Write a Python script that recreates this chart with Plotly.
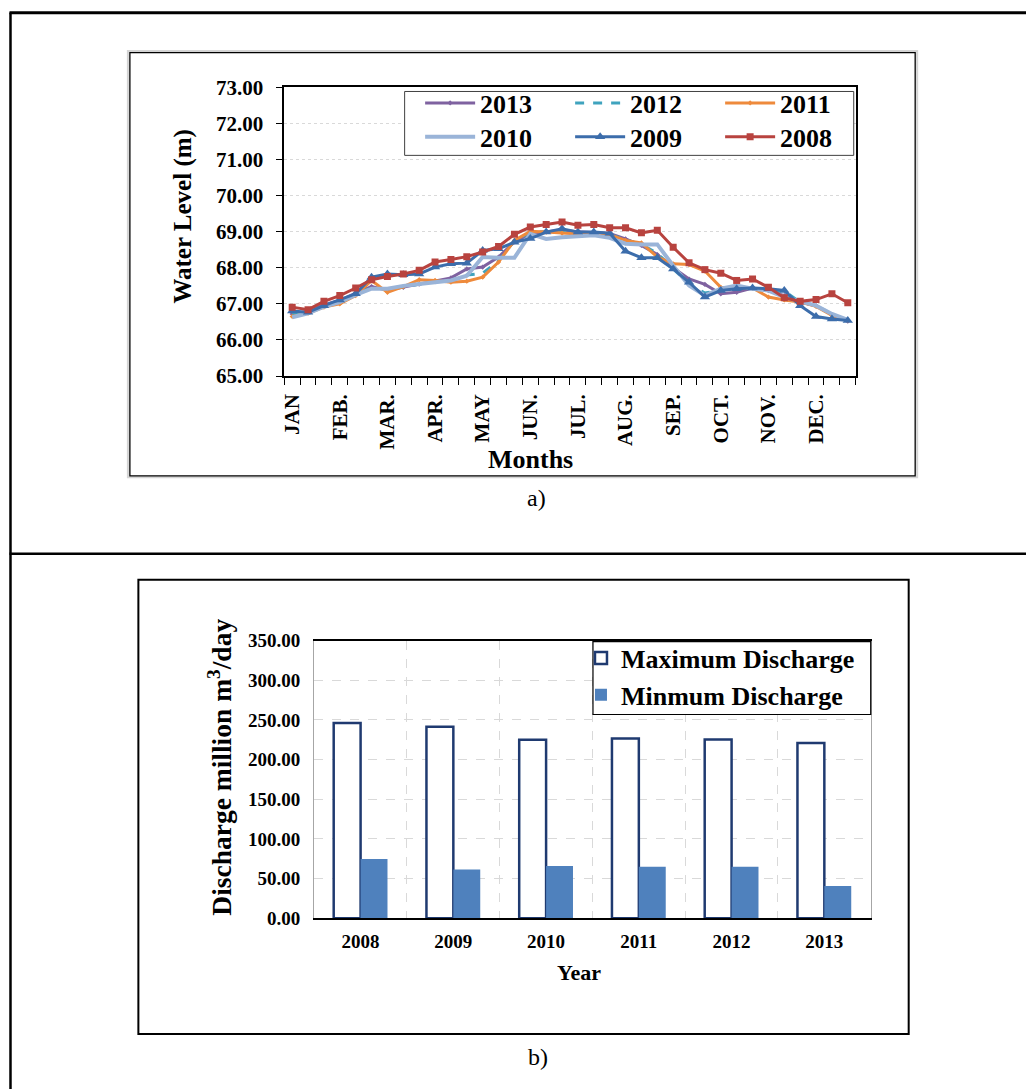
import plotly.graph_objects as go

W, H = 1026, 1089

# screen-position helpers (pixel positions on the photographed page -> paper coords)
SX, OX = 0.997, 2.5
SY, OY = 0.9795, 10.4


def px(x):
    return ((x - OX) / SX) / W


def py(y):
    return 1 - ((y - OY) / SY) / H


FONT = "Liberation Serif"

# ---------------- data : a) water level (ten-day readings) ----------------
months = ["JAN", "FEB.", "MAR.", "APR.", "MAY", "JUN.", "JUL.", "AUG.", "SEP.", "OCT.", "NOV.", "DEC."]
periods = list(range(1, 37))
month_ticks = list(range(1, 37, 3))

wl_2013 = [66.72, 66.80, 66.97, 67.10, 67.30, 67.48, 67.38, 67.46, 67.55, 67.62,
           67.72, 67.97, 68.02, 68.30, 68.72, 68.95, 69.00, 69.05, 69.00, 68.98,
           68.95, 68.80, 68.62, 68.37, 68.00, 67.69, 67.54, 67.28, 67.32, 67.44,
           67.37, 67.23, 67.05, 66.95, 66.70, 66.52]
wl_2012 = [66.70, 66.78, 66.95, 67.08, 67.28, 67.45, 67.40, 67.48, 67.55, 67.62,
           67.65, 67.80, 67.85, 68.20, 68.75, 68.98, 69.00, 69.02, 68.97, 68.95,
           68.92, 68.78, 68.65, 68.40, 67.98, 67.55, 67.30, 67.38, 67.45, 67.42,
           67.40, 67.35, 67.05, 66.95, 66.72, 66.55]
wl_2011 = [66.65, 66.74, 66.91, 67.00, 67.23, 67.65, 67.32, 67.48, 67.67, 67.65,
           67.60, 67.63, 67.74, 68.16, 68.76, 69.01, 68.99, 68.96, 68.94, 68.94,
           68.92, 68.76, 68.69, 68.30, 68.11, 68.09, 67.91, 67.46, 67.42, 67.44,
           67.19, 67.11, 67.05, 66.93, 66.68, 66.54]
wl_2010 = [66.63, 66.74, 66.92, 67.05, 67.25, 67.42, 67.42, 67.50, 67.55, 67.60,
           67.65, 67.78, 68.30, 68.28, 68.28, 68.94, 68.80, 68.85, 68.87, 68.90,
           68.83, 68.67, 68.65, 68.65, 68.06, 67.51, 67.23, 67.42, 67.51, 67.42,
           67.37, 67.19, 67.07, 66.95, 66.72, 66.56]
wl_2009 = [66.80, 66.77, 66.95, 67.11, 67.28, 67.74, 67.83, 67.81, 67.83, 68.02,
           68.11, 68.13, 68.48, 68.53, 68.71, 68.81, 68.99, 69.08, 68.99, 68.99,
           68.96, 68.46, 68.28, 68.28, 67.97, 67.60, 67.19, 67.37, 67.42, 67.44,
           67.42, 67.37, 66.95, 66.65, 66.58, 66.54]
wl_2008 = [66.91, 66.84, 67.07, 67.23, 67.44, 67.67, 67.76, 67.83, 67.93, 68.16,
           68.23, 68.31, 68.44, 68.59, 68.93, 69.13, 69.20, 69.27, 69.18, 69.20,
           69.11, 69.11, 68.97, 69.04, 68.57, 68.14, 67.95, 67.85, 67.65, 67.69,
           67.46, 67.17, 67.07, 67.12, 67.28, 67.03]

# ---------------- data : b) discharge ----------------
years = ["2008", "2009", "2010", "2011", "2012", "2013"]
max_discharge = [246.2, 241.5, 225.0, 226.7, 225.4, 220.8]
min_discharge = [74.6, 61.4, 65.7, 64.8, 64.8, 40.7]

fig = go.Figure()

series = [
    ("2013", wl_2013, "#7F62A0", "solid", 3, "diamond", 4, "legend"),
    ("2012", wl_2012, "#3FA3BE", "dash", 3, None, 0, "legend"),
    ("2011", wl_2011, "#EE8A3C", "solid", 3, "diamond", 4, "legend"),
    ("2010", wl_2010, "#9AB4D8", "solid", 4, None, 0, "legend3"),
    ("2009", wl_2009, "#3C6DAB", "solid", 3, "triangle-up", 9, "legend3"),
    ("2008", wl_2008, "#B8433F", "solid", 3, "square", 7, "legend3"),
]
for name, vals, col, dash, lw, sym, msz, leg in series:
    kw = {}
    if sym:
        kw["mode"] = "lines+markers"
        kw["marker"] = dict(symbol=sym, size=msz, color=col, line=dict(width=0))
    else:
        kw["mode"] = "lines"
    fig.add_trace(go.Scatter(
        x=periods, y=vals, name=name, line=dict(color=col, width=lw, dash=dash),
        xaxis="x", yaxis="y", legend=leg, **kw))

fig.add_trace(go.Bar(
    x=years, y=max_discharge, name="Maximum Discharge",
    marker=dict(color="white", line=dict(color="#1F3A70", width=2.5)),
    xaxis="x2", yaxis="y2", legend="legend2"))
fig.add_trace(go.Bar(
    x=years, y=min_discharge, name="Minmum Discharge",
    marker=dict(color="#4F81BD", line=dict(width=0)),
    xaxis="x2", yaxis="y2", legend="legend2"))


def bold(s):
    return dict(family=FONT, size=s, color="black", weight="bold")


shapes = [
    # table lines
    dict(type="line", xref="paper", yref="paper", x0=px(9), x1=px(9), y0=py(11), y1=py(1100),
         line=dict(color="black", width=2.5)),
    dict(type="line", xref="paper", yref="paper", x0=px(8), x1=px(1030), y0=py(11.2), y1=py(11.2),
         line=dict(color="black", width=3)),
    dict(type="line", xref="paper", yref="paper", x0=px(8), x1=px(1030), y0=py(553), y1=py(553),
         line=dict(color="black", width=2.5)),
    # chart a) frame
    dict(type="rect", xref="paper", yref="paper", x0=px(126.5), x1=px(916.5), y0=py(49.5), y1=py(476.5),
         line=dict(color="#D4D4D4", width=2)),
    dict(type="rect", xref="paper", yref="paper", x0=px(128.5), x1=px(914.5), y0=py(51), y1=py(475),
         line=dict(color="black", width=1.3)),
    # chart b) frame
    dict(type="rect", xref="paper", yref="paper", x0=px(137), x1=px(908), y0=py(579), y1=py(1034),
         line=dict(color="black", width=2)),
    # legend box of a)
    dict(type="rect", xref="paper", yref="paper", x0=px(403.5), x1=px(853), y0=py(90), y1=py(154),
         line=dict(color="#404040", width=1), fillcolor="white", layer="above"),
    # legend box of b)
    dict(type="rect", xref="paper", yref="paper", x0=px(592), x1=px(870), y0=py(641), y1=py(714),
         line=dict(color="black", width=1.2), fillcolor="white", layer="above"),
]

annotations = [
    dict(text="Water Level (m)", x=px(182), y=py(215), textangle=-90, font=bold(25)),
    dict(text="Months", x=px(529), y=py(459), font=bold(26)),
    dict(text="Discharge million m<sup>3</sup>/day", x=px(219), y=py(767), textangle=-90, font=bold(27.5)),
    dict(text="Year", x=px(578), y=py(972), font=bold(22)),
    dict(text="a)", x=px(535), y=py(497), font=dict(family=FONT, size=24, color="black")),
    dict(text="b)", x=px(537), y=py(1057), font=dict(family=FONT, size=24, color="black")),
]
for a in annotations:
    a.update(xref="paper", yref="paper", showarrow=False, xanchor="center", yanchor="middle")

fig.update_layout(
    width=W, height=H, autosize=False,
    margin=dict(l=0, r=0, t=0, b=0),
    paper_bgcolor="white", plot_bgcolor="white",
    font=dict(family=FONT, color="black"),
    barmode="group", bargap=0.42, bargroupgap=0,
    xaxis=dict(domain=[px(283), px(855)], anchor="y", range=[0.5, 36.5],
               tickmode="array", tickvals=month_ticks, ticktext=months, tickangle=-90,
               ticks="", showgrid=False, zeroline=False,
               minor=dict(tickmode="array", tickvals=[0.5 + i for i in range(37)],
                          ticks="outside", ticklen=7, tickcolor="black", tickwidth=1, showgrid=False),
               showline=True, linecolor="black", linewidth=1.5, mirror=True,
               tickfont=bold(21), ticklabelstandoff=8),
    yaxis=dict(domain=[py(375), py(86)], anchor="x", range=[65, 73], dtick=1, tickformat=".2f",
               ticks="outside", ticklen=6, tickcolor="black",
               showgrid=True, gridcolor="#D9D9D9", griddash="dot", zeroline=False,
               showline=True, linecolor="black", linewidth=1.5, mirror=True,
               tickfont=bold(21), ticklabelstandoff=9),
    xaxis2=dict(domain=[px(313), px(870)], anchor="y2", type="category",
                tickson="boundaries", ticks="", showgrid=True, gridcolor="#D9D9D9", griddash="dash",
                showline=True, linecolor="black", linewidth=1.5, mirror=True,
                tickfont=bold(19), ticklabelstandoff=5),
    yaxis2=dict(domain=[py(918), py(640)], anchor="x2", range=[0, 350], dtick=50, tickformat=".2f",
                ticks="", showgrid=True, gridcolor="#D9D9D9", griddash="dash", zeroline=False,
                showline=True, linecolor="#A6A6A6", linewidth=1.2, mirror=True,
                tickfont=bold(19), ticklabelstandoff=9),
    legend=dict(orientation="h", x=px(419), y=py(78), xanchor="left", yanchor="top",
                entrywidth=85, entrywidthmode="pixels", itemwidth=50,
                font=bold(26), bgcolor="rgba(0,0,0,0)", borderwidth=0),
    legend3=dict(orientation="h", x=px(419), y=py(112), xanchor="left", yanchor="top",
                 entrywidth=85, entrywidthmode="pixels", itemwidth=50,
                 font=bold(26), bgcolor="rgba(0,0,0,0)", borderwidth=0),
    legend2=dict(orientation="v", x=px(580), y=py(634), xanchor="left", yanchor="top",
                 font=bold(26), bgcolor="rgba(0,0,0,0)", borderwidth=0,
                 itemwidth=30, tracegroupgap=0),
    shapes=shapes,
    annotations=annotations,
)

fig.write_html(
    "out.html",
    config={"displayModeBar": False},
    post_script="document.body.style.margin='0px';document.body.style.overflow='hidden';",
)
